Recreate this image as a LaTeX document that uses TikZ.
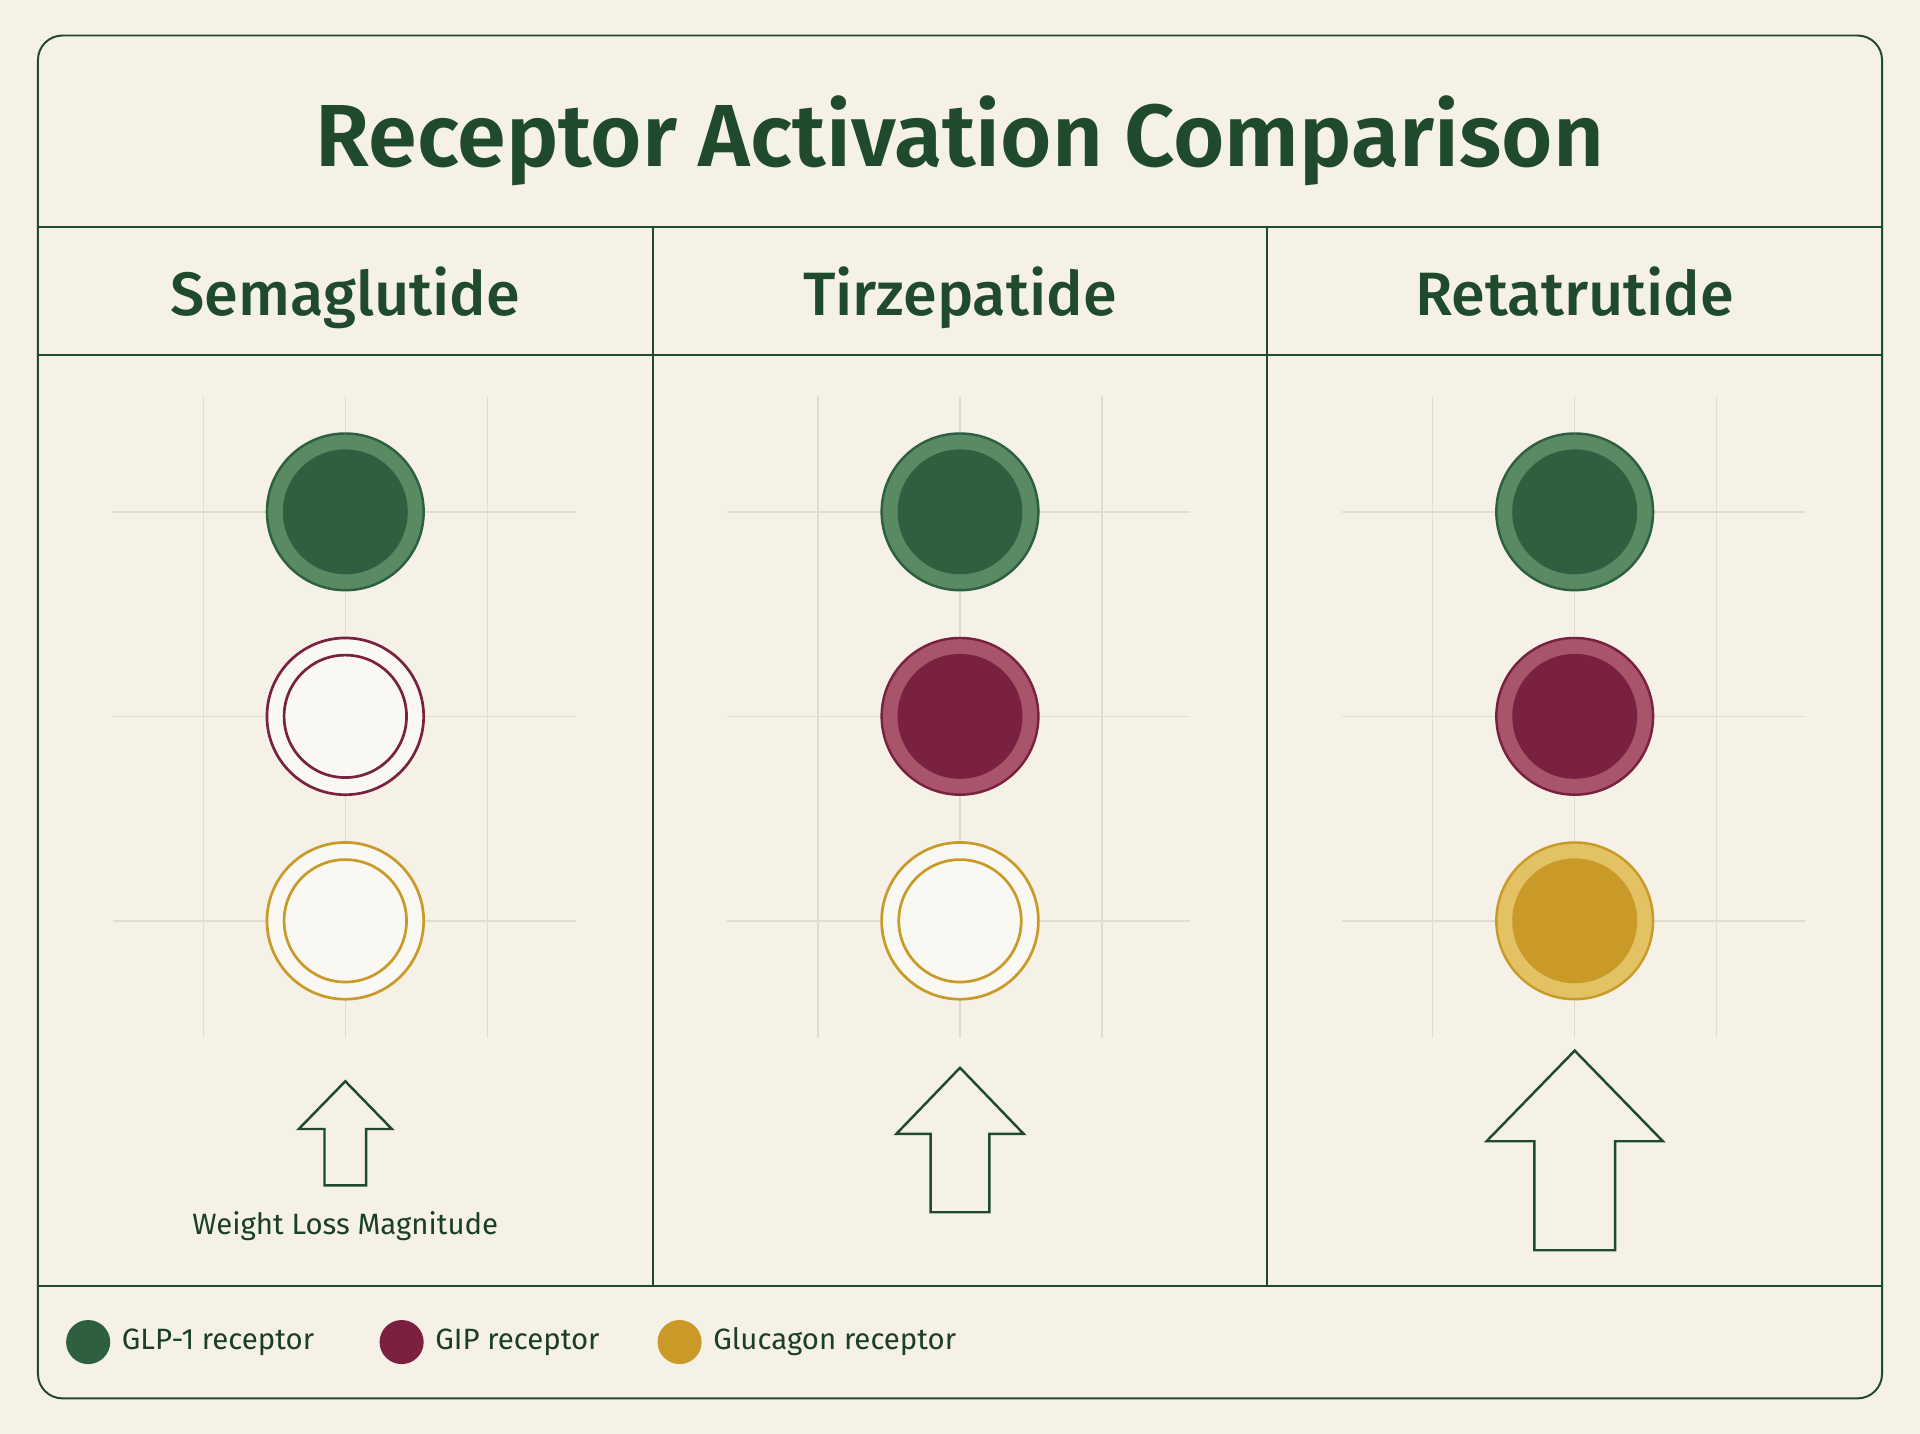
\documentclass[tikz,border=0pt]{standalone}
\usepackage{fontspec}
\setmainfont{Fira Sans}
\newfontfamily\medf{Fira Sans Medium}
\newfontfamily\semif{Fira Sans SemiBold}
\definecolor{bg}{HTML}{F5F1E7}
\definecolor{ink}{HTML}{1F4A2C}
\definecolor{gridc}{HTML}{E0DCCF}
\definecolor{gD}{HTML}{2E6040}\definecolor{gL}{HTML}{5A8A63}
\definecolor{mD}{HTML}{7A2140}\definecolor{mL}{HTML}{A8546B}
\definecolor{yD}{HTML}{C99A28}\definecolor{yL}{HTML}{E3C263}
\begin{document}
\begin{tikzpicture}[x=1pt,y=-1pt,
  frame/.style={draw=ink,line width=1.6pt},
  gl/.style={draw=gridc,line width=1.2pt},
  arr/.style={draw=ink,line width=2pt,fill=bg,line join=miter},
  hdr/.style={anchor=base,font=\medf\fontsize{50}{56}\selectfont\color{ink}},
  leg/.style={font=\fontsize{24}{28}\selectfont\color{ink!85!black},anchor=west}]
\fill[bg] (0,0) rectangle (1568,1171);
\useasboundingbox (0,0) rectangle (1568,1171);
\draw[frame,rounded corners=20pt] (31,29) rectangle (1537,1142);
\draw[frame] (31,185) -- (1537,185);
\draw[frame] (31,290) -- (1537,290);
\draw[frame] (31,1050) -- (1537,1050);
\draw[frame] (533,185) -- (533,1050);
\draw[frame] (1035,185) -- (1035,1050);
\node[anchor=base,font=\semif\fontsize{72}{80}\selectfont\color{ink}] (title) at (784,136) {Receptor Activation Comparison};
\node[hdr] (h1) at (282,258) {Semaglutide};
\node[hdr] (h2) at (784,258) {Tirzepatide};
\node[hdr] (h3) at (1286,258) {Retatrutide};
\foreach \cx in {282,784,1286}{
  \foreach \dx in {-116,0,116} \draw[gl] (\cx+\dx,323) -- (\cx+\dx,848);
  \foreach \yy in {418,585,752} \draw[gl] (\cx-190,\yy) -- (\cx+188,\yy);
}
\newcommand{\fc}[4]{\fill[#3,draw=#4,line width=2pt] (#1,#2) circle (64); \fill[#4] (#1,#2) circle (51);}
\newcommand{\ec}[3]{\fill[bg!50!white,draw=#3,line width=2.2pt] (#1,#2) circle (64); \draw[#3,line width=2.2pt] (#1,#2) circle (50);}
\fc{282}{418}{gL}{gD}
\ec{282}{585}{mD}
\ec{282}{752}{yD}
\fc{784}{418}{gL}{gD}
\fc{784}{585}{mL}{mD}
\ec{784}{752}{yD}
\fc{1286}{418}{gL}{gD}
\fc{1286}{585}{mL}{mD}
\fc{1286}{752}{yL}{yD}
\draw[arr] (282,883) -- (320,922) -- (299,922) -- (299,968) -- (265,968) -- (265,922) -- (244,922) -- cycle;
\draw[arr] (784,872) -- (836,926) -- (808,926) -- (808,990) -- (760,990) -- (760,926) -- (732,926) -- cycle;
\draw[arr] (1286,858) -- (1358,932) -- (1319,932) -- (1319,1021) -- (1253,1021) -- (1253,932) -- (1214,932) -- cycle;
\node[font=\fontsize{24}{28}\selectfont\color{ink!85!black}] (wl) at (282,1001) {Weight Loss Magnitude};
\fill[gD] (72,1096) circle (18);
\node[leg] (l1) at (96,1096) {GLP-1 receptor};
\fill[mD] (328,1096) circle (18);
\node[leg] (l2) at (352,1096) {GIP receptor};
\fill[yD] (555,1096) circle (18);
\node[leg] (l3) at (579,1096) {Glucagon receptor};
\end{tikzpicture}
\end{document}
